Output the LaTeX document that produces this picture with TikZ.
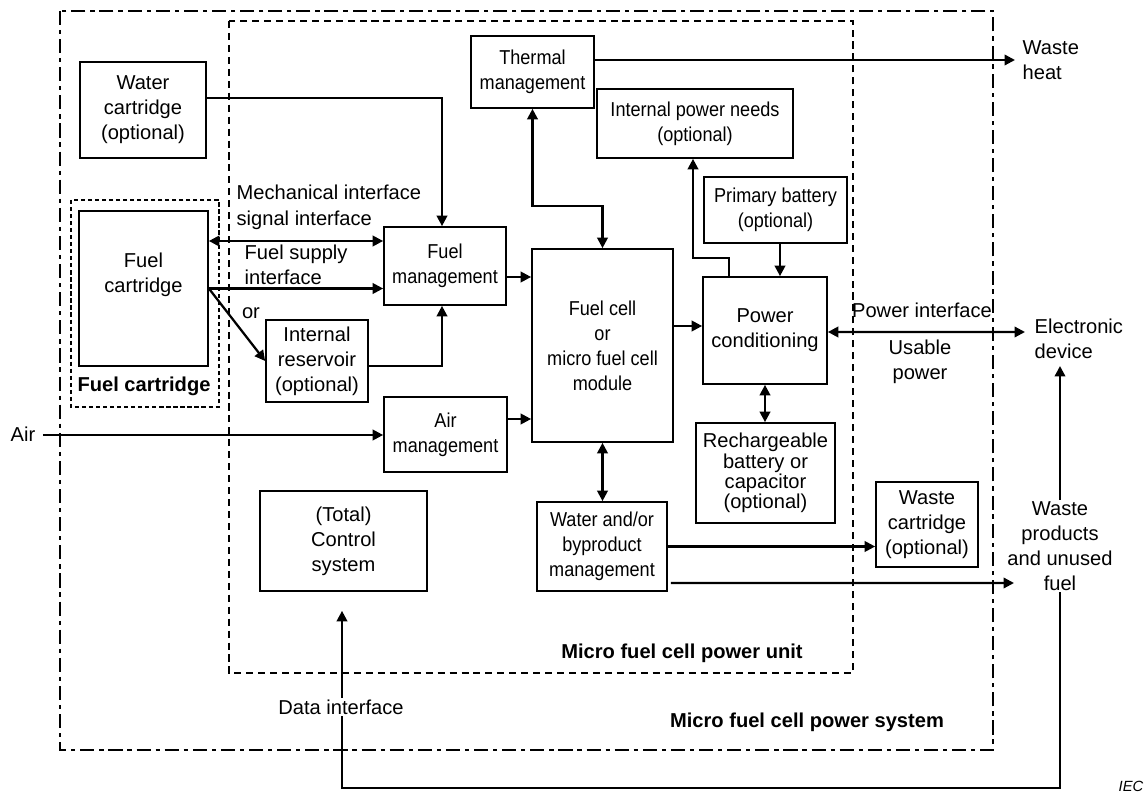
\documentclass[tikz,border=0pt]{standalone}
\usepackage{fontspec}
\setmainfont{Liberation Sans}
\newfontfamily\narrowsans[FakeStretch=0.9]{Liberation Sans}
\usetikzlibrary{calc,arrows.meta}

\begin{document}
\begin{tikzpicture}[x=0.025cm,y=-0.025cm,
  font=\narrowsans\fontsize{14.3}{17.7}\selectfont,
  box/.style={draw,rectangle,line width=1.2pt,align=center,inner sep=0pt},
  big/.style={font=\normalfont\fontsize{14.3}{17.7}\selectfont},
  flow/.style={line width=1.6pt},
  txt/.style={big,align=center,inner sep=1pt},
  bold/.style={font=\normalfont\fontsize{14.3}{18}\selectfont\bfseries,inner sep=1pt},
  >={Triangle[length=2.6mm,width=2.6mm]}]
\useasboundingbox (0,0) rectangle (1146,793);

\draw[line width=1.2pt,dash pattern=on 10pt off 3.5pt on 3pt off 3.5pt] (60,11) rectangle (993,750);
\draw[line width=1.2pt,dash pattern=on 5pt off 3.5pt] (229,21) rectangle (853,673);
\draw[line width=1.1pt,dash pattern=on 3pt off 2pt] (71,200) rectangle (219,407);

\node[box,big,minimum width=31.5mm,minimum height=24mm] (water) at (143,110) {Water\\cartridge\\(optional)};
\node[box,big,minimum width=32.25mm,minimum height=38.75mm,text depth=8mm] (fuelcart) at (143.5,288.5) {Fuel\\cartridge};
\node[box,minimum width=30.5mm,minimum height=19.5mm] (fuelmgmt) at (445,266) {Fuel\\management};
\node[box,big,minimum width=25.5mm,minimum height=20.5mm] (reservoir) at (317,361) {Internal\\reservoir\\(optional)};
\node[box,minimum width=30.75mm,minimum height=18.75mm] (airmgmt) at (445.5,434.5) {Air\\management};
\node[box,big,minimum width=41.75mm,minimum height=25mm] (control) at (343.5,541) {(Total)\\Control\\system};
\node[box,minimum width=30.75mm,minimum height=18mm] (thermal) at (532.5,72) {Thermal\\management};
\node[box,minimum width=49mm,minimum height=17.25mm] (intpower) at (695,123.5) {Internal power needs\\(optional)};
\node[box,minimum width=35.75mm,minimum height=16.5mm] (primary) at (775.5,210) {Primary battery\\(optional)};
\node[box,minimum width=35.25mm,minimum height=48.25mm] (fuelcell) at (602.5,345.5) {Fuel cell\\or\\micro fuel cell\\module};
\node[box,big,minimum width=31mm,minimum height=26.75mm] (powercond) at (765,330.5) {Power\\conditioning};
\node[box,minimum width=34.75mm,minimum height=25mm,font=\normalfont\fontsize{14.3}{14.4}\selectfont] (recharge) at (765.5,473) {Rechargeable\\battery or\\capacitor\\(optional)};
\node[box,minimum width=32.5mm,minimum height=22.25mm] (waterbp) at (602,546.5) {Water and/or\\byproduct\\management};
\node[box,big,minimum width=25.5mm,minimum height=21.25mm] (wastecart) at (927,524.5) {Waste\\cartridge\\(optional)};

\node[txt] (air) at (23,434) {Air};
\node[txt,align=left,anchor=west] (heat) at (1021,60) {Waste\\heat};
\node[txt,align=left,anchor=west] (device) at (1033,339) {Electronic\\device};
\coordinate (heatin) at (1015,60);
\coordinate (devin) at (1025,332);
\coordinate (wasteout) at (1014,583);
\coordinate (dloop) at (700,788);
\coordinate (devret) at (1060,366);

\node[txt,align=left,anchor=west,font=\normalfont\fontsize{14.3}{18.4}\selectfont] (mechif) at (235,207) {Mechanical interface\\signal interface};
\node[txt,align=left,anchor=west] (fuelif) at (243,265) {Fuel supply\\interface};
\node[txt] (orlbl) at (251,313) {or};
\node[txt] (pwrif) at (922,310) {Power interface};
\node[txt] (usable) at (920,362) {Usable\\power};

\draw[flow,->] ($(water.east)+(0,-12)$) -| ($(fuelmgmt.north)+(-3,0)$);
\draw[flow,<->] ($(fuelcart.east)+(0,-47.5)$) coordinate (mechin) -- (mechin -| fuelmgmt.west);
\draw[flow,->] (fuelcart.east) -- (fuelcart.east -| fuelmgmt.west);
\draw[flow,->] (fuelcart.east) -- (reservoir.west);
\draw[flow,->] ($(reservoir.east)+(0,5)$) -| ($(fuelmgmt.south)+(-3,0)$);
\draw[flow,->] ($(air.east)+(6,1)$) coordinate (airout) -- (airout -| airmgmt.west);
\draw[flow,->] ($(fuelmgmt.east)+(0,11)$) coordinate (fmout) -- (fmout -| fuelcell.west);
\draw[flow,->] ($(airmgmt.east)+(0,-15.5)$) coordinate (amout) -- (amout -| fuelcell.west);
\draw[flow,<->] (thermal.south) -- ++(0,97) -| (fuelcell.north);
\draw[flow,->] ($(thermal.east)+(0,-12)$) -- (heatin);
\draw[flow,->] ($(powercond.north)+(-36,0)$) -- ++(0,-18) -| ($(intpower.south)+(-2,0)$);
\draw[flow,->] ($(primary.south)+(4.5,0)$) coordinate (pbout) -- (pbout |- powercond.north);
\draw[flow,->] ($(fuelcell.east)+(0,-19.5)$) coordinate (fcout) -- (fcout -| powercond.west);
\draw[flow,<->] (powercond.south) -- (powercond.south |- recharge.north);
\draw[flow,<->] (fuelcell.south) -- (fuelcell.south |- waterbp.north);
\draw[flow,<->] ($(powercond.east)+(0,1.5)$) -- (devin);
\draw[flow,->] (waterbp.east) -- (waterbp.east -| wastecart.west);
\draw[flow,<->] ($(control.south)+(-1.5,19)$) |- (dloop) -| (devret);

\node[txt,fill=white] (waste) at (1060,546) {Waste\\products\\and unused\\fuel};
\node[txt,fill=white] (dataif) at (341,707) {Data interface};
\draw[flow,->] ($(waterbp.east)+(3,36.5)$) -- (wasteout);

\node[bold] (fclbl) at (144,386) {Fuel cartridge};
\node[bold] (unitlbl) at (682,653) {Micro fuel cell power unit};
\node[bold] (syslbl) at (807,722) {Micro fuel cell power system};
\node[font=\normalfont\fontsize{10.5}{12}\selectfont\itshape,inner sep=0pt] (iec) at (1131,786) {IEC};
\end{tikzpicture}
\end{document}
